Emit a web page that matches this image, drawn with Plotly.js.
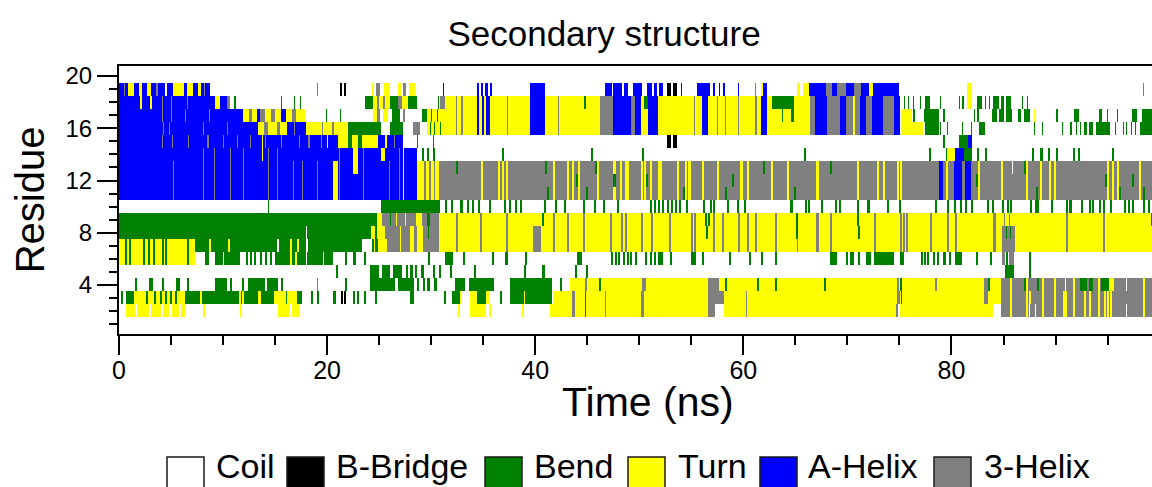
<!DOCTYPE html>
<html><head><meta charset="utf-8">
<script src="https://cdn.plot.ly/plotly-3.0.1.min.js"></script>
<style>html,body{margin:0;padding:0;background:#fff;} #chart{width:1152px;height:487px;}</style>
</head><body><div id="chart"></div>
<script>
// ---------------- DATA ----------------
const states = ['Coil', 'B-Bridge', 'Bend', 'Turn', 'A-Helix', '3-Helix'];
const stateCodes = ['C', 'B', 'S', 'T', 'H', 'G'];
const residues = [1,2,3,4,5,6,7,8,9,10,11,12,13,14,15,16,17,18,19,20];
const timeStep = 0.1;      // ns per frame
const timeEnd = 100;       // ns
const xTicks = [0, 20, 40, 60, 80];
const yTicks = [4, 8, 12, 16, 20];

// thin stripes: [time list] -> [t, t+w, code]
function st(times, code, w) { w = w || 0.2; return times.map(t => [t, t + w, code]); }

// shared stripe times (features that span several neighbouring residues)
const band18to16Mid = [[32.4,32.5,'G'],[32.9,33.0,'G'],[34.4,34.6,'H'],[34.9,35.1,'H'],[35.3,35.6,'H'],[37.3,37.4,'G'],
  [39.5,40.9,'H'],[42.2,42.3,'G'],[46.2,47.5,'G'],[47.5,49.2,'H'],[49.2,49.6,'G'],[49.6,50.1,'H'],[50.8,51.8,'H'],
  [55.2,55.3,'G'],[56.0,56.6,'H'],[57.4,57.5,'G'],[58.2,58.3,'G'],[59.5,59.6,'G'],[61.1,61.3,'G'],[61.7,62.2,'H']];
const band18to16Mix = [[65.7,66.4,'T'],[66.4,66.9,'G'],[66.9,68.0,'H'],[68.0,69.3,'G'],[69.3,69.8,'H'],[69.8,70.5,'G'],
  [70.5,70.7,'T'],[70.7,71.2,'G'],[71.2,71.8,'H'],[71.8,72.3,'G'],[72.3,73.4,'H'],[73.4,74.4,'G'],[74.4,75.0,'H']];
const gBandYellow = [34.8,36.4,36.8,37.2,41.7,43.0,43.5,44.1,45.9,47.5,48.1,48.6,48.8,50.1,50.4,51.0,51.8,52.0,53.6,
  54.4,54.7,56.0,57.4,59.7,60.3,62.6,64.2,67.0,70.9,72.8,73.4,74.7,75.0,79.4,82.5,84.7,87.1,88.5,89.3,89.8,94.9,95.4,95.9,98.0];
const tBandGray = [32.4,34.7,37.2,41.7,43.0,44.6,47.2,48.2,48.6,50.1,51.1,52.8,54.9,55.2,57.1,57.9,59.5,60.3,61.1,63.0,
  67.0,68.3,72.5,75.0,75.3,75.6,77.9,79.5,80.3,84.0,91.0,94.5];
const row10Bend = [31.3,31.9,32.8,33.4,33.9,34.5,35.5,37.0,37.5,38.0,38.5,40.8,41.9,42.7,44.6,45.6,46.5,47.8,51.0,51.4,
  51.8,52.2,52.6,53.0,53.4,53.8,54.5,56.1,56.8,57.1,58.4,59.4,60.0,64.5,65.9,66.2,67.4,68.8,69.2,70.9,71.9,73.8,74.9,
  78.4,79.5,80.2,80.8,81.3,81.8,83.4,83.9,84.8,85.3,85.6,87.5,88.0,88.2,89.5,91.0,91.3,92.4,93.2,93.5,94.1,94.5,95.2,
  96.5,96.9,97.3,98.4,98.8];
const row6Bend = [21.7,23.5,29.7,33.0,35.8,39.0,47.3,47.6,47.9,48.4,48.8,49.1,49.6,50.5,51.0,51.4,52.9,56.0,58.6,60.5,
  61.7,63.0,69.8,71.0,77.0,77.3,77.6,78.2,78.6,79.2,79.7,82.3,83.7,87.4];
const lowBandYellow = [85.6,87.1,88.7,89.8,91.6,94.0,95.2,98.4];

// per-residue segments [start ns, end ns, state] (later entries overwrite earlier ones)
const res20 = [];
const res19 = [
  [0,0.9,'H'],[0.5,0.6,'G'],[0.9,1.4,'T'],[1.4,1.9,'H'],[1.9,2.2,'T'],[2.2,2.7,'H'],[2.7,3.1,'T'],[3.1,4.4,'H'],[3.6,3.7,'G'],
  [4.6,5.2,'H'],[5.2,6.2,'T'],[6.2,6.5,'H'],[6.5,7.1,'T'],[7.1,7.6,'H'],[7.6,7.9,'T'],[7.9,8.7,'H'],[8.2,8.3,'G'],
  [19.0,19.1,'G'],[21.2,21.4,'B'],[21.6,21.8,'B'],
  [24.3,24.5,'T'],[24.7,25.1,'G'],[25.5,26.0,'T'],[26.8,27.1,'T'],[27.3,27.6,'G'],[27.9,28.4,'T'],
  [31.1,31.2,'H'],[34.4,34.6,'H'],[34.8,35.0,'H'],[35.2,35.4,'H'],[35.6,35.8,'H'],
  [39.5,40.9,'H'],[46.7,47.4,'H'],[47.5,48.3,'H'],[48.5,48.9,'H'],[49.4,50.2,'H'],[50.7,51.2,'H'],[51.4,51.7,'H'],[51.9,52.3,'H'],
  [52.6,53.0,'B'],[53.2,53.6,'B'],[54.0,54.1,'H'],[55.5,56.8,'H'],[57.1,57.3,'H'],[57.6,57.7,'H'],[58.0,58.2,'H'],
  [59.5,59.6,'H'],[61.1,61.2,'G'],[61.7,61.9,'T'],[61.9,62.2,'H'],[65.1,65.4,'T'],[65.7,66.3,'T'],[66.3,67.9,'H'],[67.9,68.5,'G'],
  [68.5,69.0,'H'],[69.0,69.8,'G'],[69.8,70.6,'H'],[70.6,71.3,'G'],[71.3,72.0,'H'],[72.0,72.4,'T'],[72.4,74.9,'H'],
  [81.5,81.9,'T'],[98.4,98.5,'G']
];
const res18 = [
  [0,9.2,'H'],[2.0,2.2,'T'],[3.0,3.2,'T'],[4.1,4.2,'G'],[5.0,5.1,'G'],[6.5,6.6,'G'],[9.2,9.7,'T'],[9.7,10.4,'H'],[10.4,10.7,'G'],
  [11.0,11.2,'S'],[15.6,15.7,'S'],[16.8,16.9,'S'],[17.4,17.5,'S'],
  [23.6,24.4,'S'],[24.4,24.8,'T'],[24.8,25.0,'G'],[25.0,25.4,'T'],[25.4,25.6,'G'],[25.6,26.0,'T'],[26.0,26.8,'S'],[26.8,27.2,'G'],
  [27.2,27.8,'T'],[27.8,28.6,'S'],[30.6,30.7,'S'],[30.8,31.3,'G'],
  [31.3,65.7,'T'], ...band18to16Mid, [44.7,44.9,'S'],[50.4,50.8,'S'],[62.7,64.8,'S'],
  ...band18to16Mix,
  [75.4,75.5,'S'],[75.8,75.9,'S'],[76.3,76.4,'S'],[76.9,77.0,'S'],[77.4,77.9,'S'],
  [78.9,79.0,'S'],[80.7,80.8,'S'],[81.0,81.2,'S'],[81.5,81.9,'T'],[82.4,82.9,'S'],[83.2,83.3,'S'],[83.6,83.7,'S'],[84.0,84.5,'S'],
  [84.7,85.0,'S'],[85.2,85.7,'S'],[86.7,86.8,'S'],[87.2,87.3,'S']
];
const res17 = [
  [0,11.9,'H'],[4.1,4.2,'G'],[5.0,5.1,'G'],[6.3,6.4,'G'],[8.6,8.7,'G'],
  [11.9,12.5,'T'],[12.5,12.8,'G'],[12.8,13.3,'T'],[13.3,13.5,'H'],[13.5,14.0,'G'],[14.0,14.6,'T'],[14.6,15.0,'G'],[15.0,15.6,'T'],
  [15.6,16.0,'H'],[16.0,16.6,'T'],[16.6,17.0,'G'],[17.0,17.9,'T'],
  [19.9,20.0,'S'],[21.2,21.3,'S'],
  [24.4,24.8,'T'],[24.8,25.1,'G'],[25.4,25.8,'T'],[26.2,27.0,'S'],[27.3,27.5,'G'],[29.1,29.6,'S'],
  [29.6,65.7,'T'],[30.0,30.1,'S'],[30.5,30.6,'S'], ...band18to16Mid, [63.7,63.8,'S'],[64.6,64.8,'S'],
  ...band18to16Mix,
  [75.1,76.2,'T'],[76.3,76.5,'S'],[77.3,78.8,'S'],
  [79.2,79.3,'S'],[82.1,82.2,'S'],[82.4,82.6,'S'],[83.9,84.3,'S'],[84.5,85.0,'S'],[85.2,85.8,'S'],[86.4,86.6,'S'],[86.9,87.5,'S'],
  [87.9,88.0,'T'],[90.0,90.2,'S'],[91.7,92.2,'S'],[94.1,94.4,'S'],[94.9,95.0,'S'],[95.9,96.0,'S'],[97.3,97.8,'S'],[98.3,99.3,'S']
];
const res16 = [
  [0,13.4,'H'],[4.2,4.3,'G'],[4.8,4.9,'G'],[8.1,8.2,'G'],[10.4,10.5,'G'],
  [13.4,13.9,'T'],[13.9,14.3,'G'],[14.3,15.2,'T'],[15.2,15.5,'G'],[15.5,16.1,'T'],[16.1,18.0,'H'],[16.8,16.9,'G'],
  [18.0,21.9,'T'],[19.5,19.6,'G'],[20.5,20.7,'G'],[22.0,25.2,'S'],[26.0,27.3,'S'],[28.2,28.9,'G'],
  [29.6,65.7,'T'],[29.9,30.0,'S'],[30.3,30.4,'S'],[30.8,30.9,'S'], ...band18to16Mid,
  ...band18to16Mix,
  [75.1,77.2,'T'],[77.4,78.8,'S'],
  [78.9,79.0,'S'],[79.5,79.6,'S'],[81.0,81.1,'S'],[81.8,81.9,'S'],[82.6,83.2,'S'],[87.9,88.0,'S'],[88.7,88.8,'S'],[90.6,90.7,'S'],
  [91.4,91.5,'S'],[91.9,92.0,'S'],[92.3,92.4,'S'],[92.7,93.0,'S'],[93.2,93.6,'S'],[93.9,95.2,'S'],[95.7,95.8,'S'],[96.4,96.5,'S'],
  [96.7,96.8,'S'],[97.2,97.3,'S'],[97.6,97.7,'S'],[98.1,99.3,'S']
];
const res15 = [
  [0,21.0,'H'], ...st([4.1,5.1,6.6,8.5,10.0,11.3,12.6,14.0,15.6,17.3,18.2,19.4],'G',0.1),[13.7,13.8,'T'],[20.0,20.1,'T'],
  [21.0,22.0,'T'],[22.0,22.4,'S'],[22.4,23.0,'T'],[23.0,23.3,'S'],[23.3,24.9,'T'],[24.9,27.3,'H'],[25.6,25.7,'T'],[26.4,26.5,'G'],
  [28.6,28.7,'S'],[30.2,30.3,'S'],[52.6,53.0,'B'],[53.2,53.6,'B'],[79.2,79.3,'S'],[80.7,81.6,'S'],[81.6,81.9,'H']
];
const res14 = [
  [0,28.6,'H'], ...st([8.1,9.1,10.7,11.9,14.3,15.2,21.1,23.4,26.9],'G',0.1),
  [13.7,13.8,'T'],[22.5,23.0,'T'],[25.2,25.6,'T'],[27.3,27.4,'T'],
  ...st([29.1,29.6,30.2,36.8,45.3,50.2,65.8,77.8,79.4,82.4,83.2,87.7,89.2,90.0,91.6,92.1,95.4],'S'),
  [79.5,80.3,'T'],[80.3,81.2,'H'],[81.2,81.9,'S'],[88.5,88.8,'S']
];
const res13 = [
  [0,28.6,'H'], ...st([5.2,8.1,9.1,10.7,11.9,14.3,15.2,16.7,17.6,19.0,21.1,23.4,25.9,26.9],'G',0.1),
  [20.6,21.0,'T'],[22.5,23.0,'T'],[27.3,27.4,'T'],
  [28.6,30.7,'T'],[29.3,29.5,'G'],[29.8,30.0,'G'],[30.3,30.4,'G'],
  [30.7,99.3,'G'], ...st(gBandYellow,'T'), ...st([32.4,40.9,45.7,61.9,68.3,86.9],'S'),
  [78.8,79.2,'H'],[80.2,81.0,'H'],[81.3,81.8,'H'],[85.8,85.9,'C']
];
const res12 = [
  [0,28.6,'H'], ...st([5.2,8.1,9.1,10.7,11.9,14.3,15.2,16.7,17.6,19.0,21.1,23.4,25.9,26.9],'G',0.1),
  [20.6,21.0,'T'],[27.3,27.4,'T'],
  [28.6,30.7,'T'],[29.3,29.5,'G'],[29.8,30.0,'G'],[30.3,30.4,'G'],
  [30.7,99.3,'G'], ...st(gBandYellow,'T'), ...st([43.9,47.5,50.6,58.9,82.3,94.7,97.3],'S'),
  [78.8,79.2,'H'],[80.2,81.0,'H'],[81.3,81.8,'H']
];
const res11 = [
  [0,28.6,'H'], ...st([5.2,8.1,9.1,10.7,11.9,14.3,15.2,16.7,17.6,19.0,21.1,23.4,25.9,26.9],'G',0.1),
  [20.6,21.0,'T'],[27.3,27.4,'T'],
  [28.6,30.7,'T'],[29.3,29.5,'G'],[29.8,30.0,'G'],[30.3,30.4,'G'],
  [30.7,99.3,'G'], ...st(gBandYellow,'T'), ...st([41.1,44.9,54.2,58.2,64.8,88.1,96.1,98.4],'S'),
  [78.8,79.2,'H'],[80.2,81.0,'H'],[81.3,81.8,'H']
];
const res10 = [[14.3,14.4,'S'],[25.2,30.8,'S'], ...st(row10Bend,'S')];
const res9 = [
  [0,24.8,'S'],[24.8,25.3,'T'],[25.3,28.5,'G'],[26.0,26.1,'S'],[26.6,26.7,'T'],[27.5,27.6,'T'],[28.5,29.1,'T'],[29.1,30.7,'G'],[29.6,29.9,'S'],
  [30.7,99.3,'T'], ...st(tBandGray,'G'), ...st([40.6,56.3,56.6,65.0,70.9,99.1],'S'), [85.0,85.1,'G'],[85.5,85.6,'G']
];
const res8 = [
  [0,24.2,'S'],[18.0,18.1,'C'],[24.2,24.6,'T'],[24.6,24.8,'S'],[24.8,25.6,'T'],[25.6,28.6,'G'],[27.0,27.1,'T'],[28.0,28.3,'T'],
  [28.6,29.2,'T'],[29.2,30.7,'G'],[29.7,29.8,'S'],
  [30.7,99.3,'T'], ...st(tBandGray,'G'), [39.8,40.5,'G'], ...st([56.4,65.0,71.0],'S'), [84.8,86.1,'G'], ...st([85.2,85.6],'S',0.1)
];
const res7 = [
  [0,7.3,'T'], ...st([0.6,1.0,2.3,2.8,3.3,4.1,4.4,6.5],'S'),
  [7.3,23.3,'S'], ...st([8.6,10.5,16.4,17.1],'T'), ...st([15.2,18.0],'C'),
  [24.3,24.9,'S'],[24.5,24.6,'T'],[24.9,25.7,'T'],[25.7,28.6,'G'],[27.0,27.1,'T'],[28.0,28.3,'T'],[28.6,29.2,'T'],[29.2,30.7,'G'],
  [30.7,99.3,'T'], ...st(tBandGray,'G'), [39.8,40.5,'G'], [65.1,65.2,'G'], [84.8,86.1,'G']
];
const res6 = [
  [0,7.3,'T'], ...st([0.6,1.0,2.3,2.8,3.3,4.1,4.4,6.5],'S'),
  [8.3,8.6,'S'],[9.2,11.6,'S'],[10.0,10.1,'C'], ...st([12.2,12.6,13.0,13.5,14.0,14.5],'S'),
  [15.0,16.4,'S'],[16.4,16.6,'T'],[16.6,16.9,'S'],[16.9,17.1,'T'],[17.1,20.6,'S'],[18.0,18.1,'C'],[19.6,19.7,'C'],
  ...st(row6Bend,'S'),
  [22.5,22.8,'S'],[31.3,32.1,'S'],[37.1,37.4,'S'],[44.0,44.5,'S'],[51.8,52.3,'S'],[54.9,55.4,'S'],[68.3,69.0,'S'],[70.2,70.6,'S'],
  [71.8,72.2,'S'],[72.5,74.4,'S'],[75.0,75.4,'S'],[80.3,81.0,'S'],
  [84.8,85.1,'G'],[85.2,85.4,'S'],[85.5,86.0,'G']
];
const res5 = [
  ...st([20.8,27.6,28.0,28.4,30.2,30.7,31.8,34.1,38.9,43.8,44.9,87.4],'S'),
  [24.1,25.0,'S'],[25.3,26.0,'S'],[26.3,27.2,'S'],[29.0,29.3,'S'],[40.6,40.9,'S'],[85.1,86.0,'S']
];
const res4 = [
  ...st([1.5,4.1,6.5,10.7,11.8,15.6,21.7,28.6,29.2,30.3,42.4],'S'), [19.0,19.1,'G'],
  [2.9,3.3,'S'],[5.5,5.9,'S'],[9.2,10.4,'S'],[12.4,14.0,'S'],[14.2,15.3,'S'],
  [24.1,26.5,'S'],[26.8,28.3,'S'],[29.6,29.9,'S'],[32.3,33.2,'S'],[33.6,36.0,'S'],[37.6,41.6,'S'],
  [43.3,84.7,'T'], ...st([44.8,50.2,50.4,74.7,78.4],'G'), [56.6,57.6,'G'], ...st([46.1,58.2,61.3,63.0,67.7,75.0],'S'),
  [83.1,83.5,'G'],[83.5,83.7,'S'],
  [84.7,99.3,'G'], ...st(lowBandYellow,'T'), ...st([86.9,88.2],'S'), [90.9,91.0,'C'],
  [92.3,93.0,'S'],[93.2,93.6,'S'],[94.3,95.1,'S'],[95.1,95.6,'T'],[96.7,96.8,'C']
];
const res3 = [
  [0.2,0.4,'S'],[0.7,1.4,'S'],[1.4,6.3,'T'], ...st([2.6,3.4,3.9,4.4,4.9,5.4],'S'),
  [6.3,14.9,'S'], ...st([7.8,11.5,11.8,13.4],'T'),
  [14.9,17.1,'T'],[16.0,16.1,'S'],[17.1,17.6,'S'],
  ...st([18.4,19.0,20.6,22.5,22.9,23.5,24.6,31.2,36.6],'S'),
  [21.3,21.5,'B'],[21.6,21.8,'B'],
  [28.0,28.3,'S'],[32.0,32.8,'S'],[32.8,32.9,'T'],[33.7,34.4,'T'],[34.4,35.3,'S'],[35.3,35.6,'T'],[37.6,41.6,'S'],[38.9,39.0,'T'],
  [41.7,83.1,'T'],[43.5,43.8,'G'],[44.8,44.9,'S'],[46.7,46.8,'G'],[50.1,50.4,'G'],[56.6,58.1,'G'],[60.2,60.3,'G'],[74.7,75.0,'G'],[75.1,75.2,'S'],
  [83.1,83.5,'G'],[83.5,84.7,'T'],
  [84.7,99.3,'G'], ...st(lowBandYellow,'T'), ...st([87.4,90.7,90.9,92.7,93.2,94.6,94.9],'T')
];
const res2 = [
  [0.7,1.5,'T'],[1.7,2.9,'T'],[3.1,4.0,'T'],[4.2,4.8,'T'],[5.1,5.8,'T'],[6.0,6.3,'T'],
  ...st([8.1,11.6,32.6,35.5,38.7],'T'),
  [15.3,16.4,'T'],[16.6,17.4,'T'],[33.7,35.3,'T'],
  [41.4,84.0,'T'],[43.5,43.8,'G'],[44.8,44.9,'S'],[46.7,46.8,'G'],[50.1,50.4,'G'],[56.6,57.3,'G'],[57.3,58.1,'C'],[60.2,60.3,'G'],
  [74.6,74.8,'G'],[74.8,75.0,'C'],
  [84.7,99.3,'G'], ...st(lowBandYellow,'T'), ...st([90.7,90.9,92.7,93.2,94.6,94.9],'T'), ...st([87.4,88.0,96.7],'C',0.1)
];
const res1 = [];

const residueSegments = [res1,res2,res3,res4,res5,res6,res7,res8,res9,res10,res11,res12,res13,res14,res15,res16,res17,res18,res19,res20];

// ---------------- BUILD GRID ----------------
const nCol = Math.round(timeEnd / timeStep);
function buildRow(segs) {
  const row = new Array(nCol).fill(0);
  for (const [a, b, s] of segs) {
    const code = stateCodes.indexOf(s);
    const i0 = Math.max(0, Math.round(a / timeStep)), i1 = Math.min(nCol, Math.round(b / timeStep));
    for (let i = i0; i < i1; i++) row[i] = code;
  }
  return row;
}
const z = residueSegments.map(buildRow);

// ---------------- STYLE ----------------
const stateColors = ['#ffffff', '#000000', '#008000', '#ffff00', '#0000ff', '#808080'];
const n = stateColors.length;
const colorscale = [];
stateColors.forEach((c, k) => { colorscale.push([k / n, c]); colorscale.push([(k + 1) / n, c]); });

const W = 1152, H = 487, ML = 119, MR = 0, MT = 66, MB = 153;
const PW = W - ML - MR, PH = H - MT - MB;
const px2x = p => (p - ML) / PW;
const py2y = p => (H - MB - p) / PH;
const FONT = 'Liberation Sans, Arial, Helvetica, sans-serif';

const trace = {
  type: 'heatmap', z: z, x0: timeStep / 2, dx: timeStep, y: residues,
  zmin: -0.5, zmax: n - 0.5, colorscale: colorscale, showscale: false, zsmooth: false,
  hoverinfo: 'skip'
};

const legendBoxPx = [[167,204],[287,324],[485,522],[628,665],[760,797],[934,971]];
const legendTextPx = [214,334,532,676,806,982];
const shapes = states.map((s, k) => ({
  type: 'rect', xref: 'paper', yref: 'paper', layer: 'above',
  x0: px2x(legendBoxPx[k][0]), x1: px2x(legendBoxPx[k][1]), y0: py2y(494), y1: py2y(457),
  fillcolor: stateColors[k], line: {color: '#1a1a1a', width: 1.5}
}));
const annotations = states.map((s, k) => ({
  text: s, xref: 'paper', yref: 'paper', x: px2x(legendTextPx[k]), y: py2y(466),
  xanchor: 'left', yanchor: 'middle', showarrow: false, font: {size: 34, color: '#000', family: FONT}
}));
annotations.push({
  text: 'Time (ns)', xref: 'paper', yref: 'paper', x: px2x(648), y: py2y(402),
  xanchor: 'center', yanchor: 'middle', showarrow: false, font: {size: 41, color: '#000', family: FONT}
});

const layout = {
  width: W, height: H, margin: {l: ML, r: MR, t: MT, b: MB, pad: 0},
  paper_bgcolor: '#ffffff', plot_bgcolor: '#ffffff',
  font: {family: FONT, color: '#000'},
  showlegend: false,
  title: {text: 'Secondary structure', font: {size: 35, color: '#000'}, xref: 'paper', x: px2x(604), xanchor: 'center',
          yref: 'container', y: 1 - 34 / H, yanchor: 'middle'},
  xaxis: {
    range: [0, 99.27], tickvals: xTicks, ticktext: xTicks.map(String),
    ticks: 'outside', ticklen: 19, tickwidth: 2, tickcolor: '#000',
    minor: {dtick: 5, tick0: 0, ticks: 'outside', ticklen: 9, tickwidth: 2, tickcolor: '#000'},
    showline: true, linecolor: '#000', linewidth: 2, mirror: true,
    showgrid: false, zeroline: false, tickfont: {size: 25, color: '#000'}, ticklabelstandoff: -6
  },
  yaxis: {
    range: [0.25, 20.77], tickvals: yTicks, ticktext: yTicks.map(String),
    ticks: 'outside', ticklen: 20, tickwidth: 2, tickcolor: '#000',
    minor: {dtick: 1, tick0: 0, ticks: 'outside', ticklen: 8, tickwidth: 2, tickcolor: '#000'},
    showline: true, linecolor: '#000', linewidth: 2, mirror: false,
    showgrid: false, zeroline: false, tickfont: {size: 24, color: '#000'},
    title: {text: 'Residue', font: {size: 40, color: '#000'}, standoff: 8}
  },
  shapes: shapes,
  annotations: annotations
};

Plotly.newPlot('chart', [trace], layout, {staticPlot: true, displayModeBar: false});
</script></body></html>
